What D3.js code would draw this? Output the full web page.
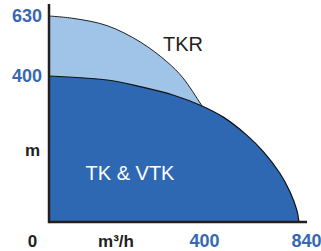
<!DOCTYPE html>
<html>
<head>
<meta charset="utf-8">
<script src="https://cdn.jsdelivr.net/npm/d3@7"></script>
<style>
  body { margin: 0; background: #fff; }
  svg { display: block; font-family: Arial, "Liberation Sans", sans-serif; }
  .tick-label text { fill: #3768b1; font-weight: bold; font-size: 18px; }
  .unit { fill: #231f20; font-weight: bold; font-size: 17px; }
  .area-name { font-size: 20px; }
</style>
</head>
<body>
<svg id="chart" width="321" height="251"></svg>
<script>
// flow (m3/h) vs head (m)
const tkrFlow = [0, 63, 152, 238, 308, 350, 395, 400];
const tkrHead = [630, 621, 593, 531, 455, 395, 326, 318];
const tkFlow = [0, 152, 238, 324, 400, 495, 603, 678, 754, 799, 830, 840];
const tkHead = [400, 389, 371, 348, 318, 288, 238, 193, 133, 83, 33, 0];
const xTicks = [400, 840];
const yTicks = [630, 400];

const svg = d3.select("#chart");

// schematic axes: not linear, so piecewise scales
const x = d3.scaleLinear().domain([0, 400, 840]).range([49, 202, 299]);
const y = d3.scaleLinear().domain([0, 400, 630]).range([222, 76, 16]);

const tkr = tkrFlow.map((f, i) => ({ q: f, h: tkrHead[i] }));
const tk = tkFlow.map((f, i) => ({ q: f, h: tkHead[i] }));

const curve = d3.curveCatmullRom.alpha(0.5);
const area = d3.area()
  .x((d) => x(d.q))
  .y0(y(0))
  .y1((d) => y(d.h))
  .curve(curve);
const line = d3.line()
  .x((d) => x(d.q))
  .y((d) => y(d.h))
  .curve(curve);

svg.append("path").attr("d", area(tkr)).attr("fill", "#9fc4e8");
svg.append("path").attr("d", line(tkr)).attr("fill", "none").attr("stroke", "#231f20").attr("stroke-width", 1);
svg.append("path").attr("d", area(tk)).attr("fill", "#2e68b2");
svg.append("path").attr("d", line(tk)).attr("fill", "none").attr("stroke", "#111").attr("stroke-width", 1.2);

// axis lines
svg.append("line")
  .attr("x1", x(0)).attr("x2", x(0))
  .attr("y1", 4).attr("y2", y(0) + 1.2)
  .attr("stroke", "#231f20").attr("stroke-width", 2.5);
svg.append("line")
  .attr("x1", x(0)).attr("x2", 307)
  .attr("y1", y(0)).attr("y2", y(0))
  .attr("stroke", "#231f20").attr("stroke-width", 2.5);

// tick labels
const gy = svg.append("g")
  .attr("class", "tick-label")
  .attr("transform", `translate(${x(0)},0)`)
  .call(d3.axisLeft(y).tickValues(yTicks).tickSize(0).tickPadding(7));
gy.select(".domain").remove();
gy.selectAll("text").attr("font-family", null).attr("font-size", null).attr("dy", "0.33em");

const gx = svg.append("g")
  .attr("class", "tick-label")
  .attr("transform", `translate(0,${y(0)})`)
  .call(d3.axisBottom(x).tickValues(xTicks).tickSize(0).tickPadding(12));
gx.select(".domain").remove();
gx.selectAll("text").attr("font-family", null).attr("font-size", null)
  .attr("dx", (d) => (d === 840 ? 7 : 2));

// origin and units
svg.append("text").attr("class", "unit").attr("x", 32.5).attr("y", 247).attr("text-anchor", "middle").text("0");
svg.append("text").attr("class", "unit").attr("x", 32.5).attr("y", 156).attr("text-anchor", "middle").text("m");
svg.append("text").attr("class", "unit").attr("x", 116).attr("y", 247).attr("text-anchor", "middle").text("m³/h");

// area names
svg.append("text").attr("class", "area-name").attr("x", 183).attr("y", 51)
  .attr("text-anchor", "middle").attr("fill", "#231f20").text("TKR");
svg.append("text").attr("class", "area-name").attr("x", 130).attr("y", 180)
  .attr("text-anchor", "middle").attr("fill", "#fff").text("TK & VTK");
</script>
</body>
</html>
